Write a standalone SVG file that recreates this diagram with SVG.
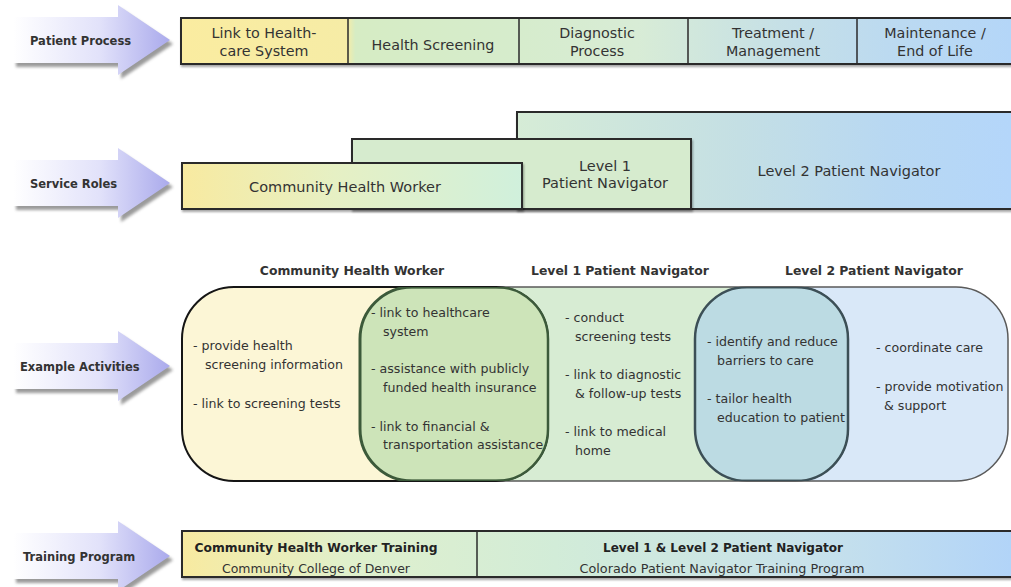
<svg xmlns="http://www.w3.org/2000/svg" width="1011" height="587" viewBox="0 0 1011 587">
<defs>
  <style>
    text{font-family:"DejaVu Sans","Liberation Sans",sans-serif;fill:#2b2b2b}
    .lab{font-size:11.5px;font-weight:bold;fill:#333}
    .cell{font-size:14.3px;text-anchor:middle;fill:#333}
    .role{font-size:14.5px;text-anchor:middle;fill:#333}
    .hdr{font-size:12.4px;font-weight:bold;text-anchor:middle;fill:#333}
    .act{font-size:12.6px;fill:#333}
    .tb{font-size:12px;font-weight:bold;text-anchor:middle;fill:#222}
    .tr{font-size:12px;text-anchor:middle;fill:#333}
    .bar{stroke:#2a2a2a;stroke-width:2}
    .div{stroke:#2a2a2a;stroke-width:1.5}
    .arrow{fill:url(#gArrow)}
    .shadow{fill:#4a4a4a;opacity:0.55;filter:url(#blur)}
  </style>
  <linearGradient id="gArrow" x1="0" y1="0" x2="1" y2="0">
    <stop offset="0" stop-color="#ffffff"/>
    <stop offset="0.55" stop-color="#e2e2fa"/>
    <stop offset="1" stop-color="#aaaaec"/>
  </linearGradient>
  <linearGradient id="gTop" gradientUnits="userSpaceOnUse" x1="181" y1="0" x2="1011" y2="0">
    <stop offset="0" stop-color="#faeca0"/>
    <stop offset="0.2" stop-color="#f6eca6"/>
    <stop offset="0.21" stop-color="#d6ecc4"/>
    <stop offset="0.4" stop-color="#d6eccc"/>
    <stop offset="0.55" stop-color="#d8ecd6"/>
    <stop offset="0.72" stop-color="#c6e0e6"/>
    <stop offset="0.85" stop-color="#bcdaf0"/>
    <stop offset="1" stop-color="#b4d6f8"/>
  </linearGradient>
  <linearGradient id="gCHW" gradientUnits="userSpaceOnUse" x1="182" y1="0" x2="522" y2="0">
    <stop offset="0" stop-color="#f8eaa0"/>
    <stop offset="0.45" stop-color="#e6f0c4"/>
    <stop offset="1" stop-color="#d0f0dc"/>
  </linearGradient>
  <linearGradient id="gL2" gradientUnits="userSpaceOnUse" x1="517" y1="0" x2="1011" y2="0">
    <stop offset="0" stop-color="#d6ecd6"/>
    <stop offset="0.45" stop-color="#c4dfe4"/>
    <stop offset="0.75" stop-color="#b8d8f2"/>
    <stop offset="1" stop-color="#b4d6fa"/>
  </linearGradient>
  <linearGradient id="gTrain" gradientUnits="userSpaceOnUse" x1="182" y1="0" x2="1011" y2="0">
    <stop offset="0" stop-color="#f8eaa0"/>
    <stop offset="0.2" stop-color="#e0f0cc"/>
    <stop offset="0.45" stop-color="#d2ecd8"/>
    <stop offset="0.75" stop-color="#c8e2ea"/>
    <stop offset="1" stop-color="#b2d4f8"/>
  </linearGradient>
  <filter id="blur" x="-10%" y="-20%" width="120%" height="140%">
    <feGaussianBlur stdDeviation="1.5"/>
  </filter>
  <filter id="bshadow" x="-5%" y="-20%" width="110%" height="150%">
    <feDropShadow dx="1" dy="2" stdDeviation="1" flood-color="#000" flood-opacity="0.35"/>
  </filter>
  <path id="arrowShape" d="M13,-23 H118 V-35 L170,0 L118,35 V23 H13 Z"/>
  <clipPath id="cCHW"><rect x="182" y="287" width="366" height="194" rx="52"/></clipPath>
  <clipPath id="cL1"><rect x="360" y="287" width="488" height="194" rx="52"/></clipPath>
  <clipPath id="cL2"><rect x="695" y="287" width="313" height="194" rx="52"/></clipPath>
</defs>
<rect width="1011" height="587" fill="#ffffff"/>

<!-- Row labels (arrows) -->
<g id="arrow-patient-process">
  <use href="#arrowShape" class="shadow" transform="translate(3,44)"/>
  <use href="#arrowShape" class="arrow" transform="translate(0,40)"/>
  <text class="lab" x="30" y="45">Patient Process</text>
</g>
<g id="arrow-service-roles">
  <use href="#arrowShape" class="shadow" transform="translate(3,187)"/>
  <use href="#arrowShape" class="arrow" transform="translate(0,183)"/>
  <text class="lab" x="30" y="188">Service Roles</text>
</g>
<g id="arrow-example-activities">
  <use href="#arrowShape" class="shadow" transform="translate(3,370)"/>
  <use href="#arrowShape" class="arrow" transform="translate(0,366)"/>
  <text class="lab" x="20" y="371">Example Activities</text>
</g>
<g id="arrow-training-program">
  <use href="#arrowShape" class="shadow" transform="translate(3,560)"/>
  <use href="#arrowShape" class="arrow" transform="translate(0,556)"/>
  <text class="lab" x="23" y="561">Training Program</text>
</g>

<!-- Patient process bar -->
<g id="patient-process" filter="url(#bshadow)">
  <rect class="bar" x="181" y="18" width="840" height="46" fill="url(#gTop)"/>
  <line class="div" x1="348" y1="18" x2="348" y2="64"/>
  <line class="div" x1="519" y1="18" x2="519" y2="64"/>
  <line class="div" x1="688" y1="18" x2="688" y2="64"/>
  <line class="div" x1="857" y1="18" x2="857" y2="64"/>
</g>
<g id="pp-link">
  <text class="cell" x="264" y="38">Link to Health-</text>
  <text class="cell" x="264" y="56">care System</text>
</g>
<g id="pp-screening"><text class="cell" x="433" y="50">Health Screening</text></g>
<g id="pp-diagnostic">
  <text class="cell" x="597" y="38">Diagnostic</text>
  <text class="cell" x="597" y="56">Process</text>
</g>
<g id="pp-treatment">
  <text class="cell" x="773" y="38">Treatment /</text>
  <text class="cell" x="773" y="56">Management</text>
</g>
<g id="pp-maintenance">
  <text class="cell" x="935" y="38">Maintenance /</text>
  <text class="cell" x="935" y="56">End of Life</text>
</g>

<!-- Service roles -->
<g id="role-level2" filter="url(#bshadow)">
  <rect class="bar" x="517" y="112" width="504" height="97" fill="url(#gL2)"/>
</g>
<g id="role-level2-label"><text class="role" x="849" y="176">Level 2 Patient Navigator</text></g>
<g id="role-level1" filter="url(#bshadow)">
  <rect class="bar" x="352" y="139" width="339" height="70" fill="#d6ebce"/>
</g>
<g id="role-level1-label">
  <text class="role" x="605" y="171">Level 1</text>
  <text class="role" x="605" y="188">Patient Navigator</text>
</g>
<g id="role-chw" filter="url(#bshadow)">
  <rect class="bar" x="182" y="163" width="340" height="46" fill="url(#gCHW)"/>
</g>
<g id="role-chw-label"><text class="role" x="345" y="192">Community Health Worker</text></g>

<!-- Example activities -->
<g id="hdr-chw"><text class="hdr" x="352" y="275">Community Health Worker</text></g>
<g id="hdr-l1"><text class="hdr" x="620" y="275">Level 1 Patient Navigator</text></g>
<g id="hdr-l2"><text class="hdr" x="874" y="275">Level 2 Patient Navigator</text></g>

<g id="area-level2">
  <rect x="695" y="287" width="313" height="194" rx="52" fill="#d9e8f8" stroke="#5a5a5a" stroke-width="1.5"/>
</g>
<g id="area-level1">
  <rect x="360" y="287" width="488" height="194" rx="52" fill="#d7ecd3" stroke="#5a5a5a" stroke-width="1.5"/>
  <g clip-path="url(#cL1)">
    <rect x="695" y="287" width="313" height="194" rx="52" fill="#bcdbe3" stroke="#3c4f56" stroke-width="2.5"/>
  </g>
  <g clip-path="url(#cL2)">
    <rect x="360" y="287" width="488" height="194" rx="52" fill="none" stroke="#3c4f56" stroke-width="2.5"/>
  </g>
</g>
<g id="area-chw">
  <rect x="182" y="287" width="366" height="194" rx="52" fill="#fcf6d6" stroke="#151515" stroke-width="2"/>
  <g clip-path="url(#cCHW)">
    <rect x="360" y="287" width="488" height="194" rx="52" fill="#cde4b9" stroke="#3c5a3a" stroke-width="3"/>
  </g>
  <g clip-path="url(#cL1)">
    <rect x="182" y="287" width="366" height="194" rx="52" fill="none" stroke="#3c5a3a" stroke-width="2.5"/>
  </g>
</g>

<g id="act-chw">
  <text class="act" x="193" y="350">- provide health</text>
  <text class="act" x="205" y="369">screening information</text>
  <text class="act" x="193" y="408">- link to screening tests</text>
</g>
<g id="act-chw-l1">
  <text class="act" x="371" y="317">- link to healthcare</text>
  <text class="act" x="383" y="336">system</text>
  <text class="act" x="371" y="373">- assistance with publicly</text>
  <text class="act" x="383" y="392">funded health insurance</text>
  <text class="act" x="371" y="431">- link to financial &amp;</text>
  <text class="act" x="383" y="449">transportation assistance</text>
</g>
<g id="act-l1">
  <text class="act" x="565" y="322">- conduct</text>
  <text class="act" x="575" y="341">screening tests</text>
  <text class="act" x="565" y="379">- link to diagnostic</text>
  <text class="act" x="575" y="398">&amp; follow-up tests</text>
  <text class="act" x="565" y="436">- link to medical</text>
  <text class="act" x="575" y="455">home</text>
</g>
<g id="act-l1-l2">
  <text class="act" x="707" y="346">- identify and reduce</text>
  <text class="act" x="717" y="365">barriers to care</text>
  <text class="act" x="707" y="403">- tailor health</text>
  <text class="act" x="717" y="422">education to patient</text>
</g>
<g id="act-l2">
  <text class="act" x="876" y="352">- coordinate care</text>
  <text class="act" x="876" y="391">- provide motivation</text>
  <text class="act" x="884" y="410">&amp; support</text>
</g>

<!-- Training program -->
<g id="training" filter="url(#bshadow)">
  <rect class="bar" x="182" y="531" width="840" height="46" fill="url(#gTrain)"/>
  <line class="div" x1="477" y1="531" x2="477" y2="577"/>
</g>
<g id="training-chw">
  <text class="tb" x="316" y="552" textLength="243" lengthAdjust="spacingAndGlyphs">Community Health Worker Training</text>
  <text class="tr" x="316" y="573" textLength="188" lengthAdjust="spacingAndGlyphs">Community College of Denver</text>
</g>
<g id="training-pn">
  <text class="tb" x="723" y="552" textLength="240" lengthAdjust="spacingAndGlyphs">Level 1 &amp; Level 2 Patient Navigator</text>
  <text class="tr" x="722" y="573" textLength="285" lengthAdjust="spacingAndGlyphs">Colorado Patient Navigator Training Program</text>
</g>

<g id="connectors"/>
</svg>
